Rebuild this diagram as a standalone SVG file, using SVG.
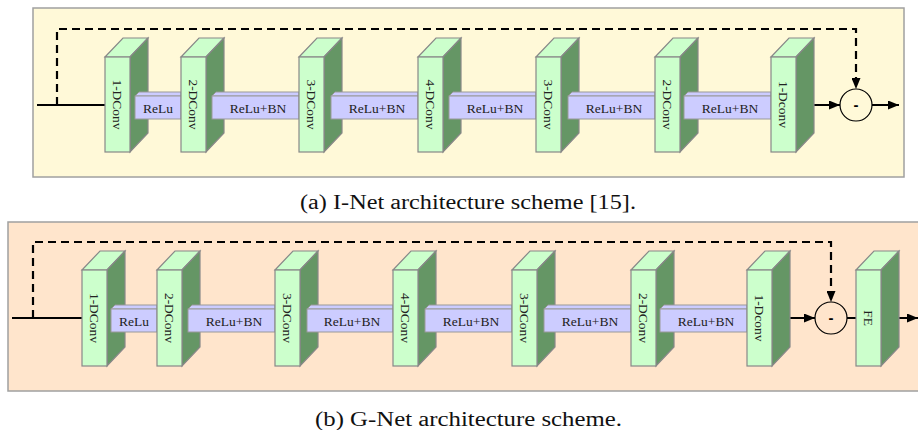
<svg xmlns="http://www.w3.org/2000/svg" width="918" height="430" viewBox="0 0 918 430">
<style>
.panelA{fill:#FFF9D8;stroke:#A0A0A0;stroke-width:1.5}
.panelB{fill:#FFE5CC;stroke:#A0A0A0;stroke-width:1.5}
.front{fill:#CCFFCC;stroke:#888;stroke-width:1.2}
.top{fill:#CCFFCC;stroke:#888;stroke-width:1.2}
.side{fill:#659665;stroke:#888;stroke-width:1.2}
.bar{fill:#CCCCFF;stroke:#999;stroke-width:1}
.lbl{font-family:"Liberation Serif","Times New Roman",serif;font-size:13.5px;fill:#222;text-anchor:middle;dominant-baseline:central}
.cap{font-family:"Liberation Serif","Times New Roman",serif;font-size:20px;fill:#111;text-anchor:middle}
.line{fill:none;stroke:#000;stroke-width:2}
.dash{fill:none;stroke:#000;stroke-width:2.2;stroke-dasharray:8 5}
.sum{fill:none;stroke:#000;stroke-width:1.2}
.minus{font-family:"Liberation Sans",Arial,sans-serif;font-size:15px;font-weight:bold;fill:#000;text-anchor:middle;dominant-baseline:central}
</style>
<defs>
<marker id="ah" markerUnits="userSpaceOnUse" markerWidth="11" markerHeight="9" refX="11" refY="4.5" orient="auto">
<path d="M0,0 L11,4.5 L0,9 Z" fill="#000"/>
</marker>
</defs>

<rect class="panelA" x="33" y="8" width="871" height="169"/>
<rect class="panelB" x="8" y="222" width="925" height="169"/>

<g id="connectors">
<path class="dash" d="M57,105 V29 H856 V89" marker-end="url(#ah)"/>
<path class="line" d="M37,105 H105"/>
<path class="line" d="M814,105 H840" marker-end="url(#ah)"/>
<path class="line" d="M872,105 H899" marker-end="url(#ah)"/>
<path class="dash" d="M33,318 V242 H831 V302" marker-end="url(#ah)"/>
<path class="line" d="M12,318 H82"/>
<path class="line" d="M789,318 H815" marker-end="url(#ah)"/>
<path class="line" d="M847,318 H856"/>
<path class="line" d="M898,318 H918" marker-end="url(#ah)"/>
</g>

<!-- Panel (a) -->
<g id="a_conv1"><polygon class="top" points="105,57 123,38 148,38 130,57"/><polygon class="side" points="130,57 148,38 148,133 130,152"/><rect class="front" x="105" y="57" width="25" height="95"/><text class="lbl" transform="translate(117.5,104.5) rotate(90)">1-DConv</text></g>
<g id="a_bar1"><polygon class="bar" points="135,96 139,92 181,92 181,96"/><rect class="bar" x="135" y="96" width="46" height="23"/><text class="lbl" x="158" y="108">ReLu</text></g>
<g id="a_conv2"><polygon class="top" points="181,57 199,38 224,38 206,57"/><polygon class="side" points="206,57 224,38 224,133 206,152"/><rect class="front" x="181" y="57" width="25" height="95"/><text class="lbl" transform="translate(193.5,104.5) rotate(90)">2-DConv</text></g>
<g id="a_bar2"><polygon class="bar" points="212,96 216,92 299,92 299,96"/><rect class="bar" x="212" y="96" width="87" height="23"/><text class="lbl" x="258" y="108">ReLu+BN</text></g>
<g id="a_conv3"><polygon class="top" points="299,57 317,38 342,38 324,57"/><polygon class="side" points="324,57 342,38 342,133 324,152"/><rect class="front" x="299" y="57" width="25" height="95"/><text class="lbl" transform="translate(311.5,104.5) rotate(90)">3-DConv</text></g>
<g id="a_bar3"><polygon class="bar" points="331,96 335,92 418,92 418,96"/><rect class="bar" x="331" y="96" width="87" height="23"/><text class="lbl" x="377" y="108">ReLu+BN</text></g>
<g id="a_conv4"><polygon class="top" points="418,57 436,38 461,38 443,57"/><polygon class="side" points="443,57 461,38 461,133 443,152"/><rect class="front" x="418" y="57" width="25" height="95"/><text class="lbl" transform="translate(430.5,104.5) rotate(90)">4-DConv</text></g>
<g id="a_bar4"><polygon class="bar" points="449,96 453,92 536,92 536,96"/><rect class="bar" x="449" y="96" width="87" height="23"/><text class="lbl" x="495" y="108">ReLu+BN</text></g>
<g id="a_conv5"><polygon class="top" points="536,57 554,38 579,38 561,57"/><polygon class="side" points="561,57 579,38 579,133 561,152"/><rect class="front" x="536" y="57" width="25" height="95"/><text class="lbl" transform="translate(548.5,104.5) rotate(90)">3-DConv</text></g>
<g id="a_bar5"><polygon class="bar" points="568,96 572,92 655,92 655,96"/><rect class="bar" x="568" y="96" width="87" height="23"/><text class="lbl" x="614" y="108">ReLu+BN</text></g>
<g id="a_conv6"><polygon class="top" points="655,57 673,38 698,38 680,57"/><polygon class="side" points="680,57 698,38 698,133 680,152"/><rect class="front" x="655" y="57" width="25" height="95"/><text class="lbl" transform="translate(667.5,104.5) rotate(90)">2-DConv</text></g>
<g id="a_bar6"><polygon class="bar" points="684,96 688,92 771,92 771,96"/><rect class="bar" x="684" y="96" width="87" height="23"/><text class="lbl" x="730" y="108">ReLu+BN</text></g>
<g id="a_conv7"><polygon class="top" points="771,57 789,38 814,38 796,57"/><polygon class="side" points="796,57 814,38 814,133 796,152"/><rect class="front" x="771" y="57" width="25" height="95"/><text class="lbl" transform="translate(783.5,104.5) rotate(90)">1-Dconv</text></g>
<g id="a_sub"><circle class="sum" cx="856" cy="105" r="16"/><text class="minus" x="856" y="104">-</text></g>
<text class="cap" x="468" y="209" textLength="336" lengthAdjust="spacingAndGlyphs">(a) I-Net architecture scheme [15].</text>

<!-- Panel (b) -->
<g id="b_conv1"><polygon class="top" points="82,270 100,251 125,251 107,270"/><polygon class="side" points="107,270 125,251 125,347 107,366"/><rect class="front" x="82" y="270" width="25" height="96"/><text class="lbl" transform="translate(94.5,318) rotate(90)">1-DConv</text></g>
<g id="b_bar1"><polygon class="bar" points="111,309 115,305 157,305 157,309"/><rect class="bar" x="111" y="309" width="46" height="23"/><text class="lbl" x="134" y="321">ReLu</text></g>
<g id="b_conv2"><polygon class="top" points="157,270 175,251 200,251 182,270"/><polygon class="side" points="182,270 200,251 200,347 182,366"/><rect class="front" x="157" y="270" width="25" height="96"/><text class="lbl" transform="translate(169.5,318) rotate(90)">2-DConv</text></g>
<g id="b_bar2"><polygon class="bar" points="188,309 192,305 275,305 275,309"/><rect class="bar" x="188" y="309" width="87" height="23"/><text class="lbl" x="234" y="321">ReLu+BN</text></g>
<g id="b_conv3"><polygon class="top" points="275,270 293,251 318,251 300,270"/><polygon class="side" points="300,270 318,251 318,347 300,366"/><rect class="front" x="275" y="270" width="25" height="96"/><text class="lbl" transform="translate(287.5,318) rotate(90)">3-DConv</text></g>
<g id="b_bar3"><polygon class="bar" points="307,309 311,305 393,305 393,309"/><rect class="bar" x="307" y="309" width="86" height="23"/><text class="lbl" x="352" y="321">ReLu+BN</text></g>
<g id="b_conv4"><polygon class="top" points="393,270 411,251 436,251 418,270"/><polygon class="side" points="418,270 436,251 436,347 418,366"/><rect class="front" x="393" y="270" width="25" height="96"/><text class="lbl" transform="translate(405.5,318) rotate(90)">4-DConv</text></g>
<g id="b_bar4"><polygon class="bar" points="425,309 429,305 512,305 512,309"/><rect class="bar" x="425" y="309" width="87" height="23"/><text class="lbl" x="471" y="321">ReLu+BN</text></g>
<g id="b_conv5"><polygon class="top" points="512,270 530,251 555,251 537,270"/><polygon class="side" points="537,270 555,251 555,347 537,366"/><rect class="front" x="512" y="270" width="25" height="96"/><text class="lbl" transform="translate(524.5,318) rotate(90)">3-DConv</text></g>
<g id="b_bar5"><polygon class="bar" points="544,309 548,305 631,305 631,309"/><rect class="bar" x="544" y="309" width="87" height="23"/><text class="lbl" x="590" y="321">ReLu+BN</text></g>
<g id="b_conv6"><polygon class="top" points="631,270 649,251 674,251 656,270"/><polygon class="side" points="656,270 674,251 674,347 656,366"/><rect class="front" x="631" y="270" width="25" height="96"/><text class="lbl" transform="translate(643.5,318) rotate(90)">2-DConv</text></g>
<g id="b_bar6"><polygon class="bar" points="660,309 664,305 747,305 747,309"/><rect class="bar" x="660" y="309" width="87" height="23"/><text class="lbl" x="706" y="321">ReLu+BN</text></g>
<g id="b_conv7"><polygon class="top" points="747,270 765,251 790,251 772,270"/><polygon class="side" points="772,270 790,251 790,347 772,366"/><rect class="front" x="747" y="270" width="25" height="96"/><text class="lbl" transform="translate(759.5,318) rotate(90)">1-Dconv</text></g>
<g id="b_sub"><circle class="sum" cx="831" cy="318" r="16"/><text class="minus" x="831" y="317">-</text></g>
<g id="b_fe"><polygon class="top" points="856,270 874,251 899,251 881,270"/><polygon class="side" points="881,270 899,251 899,347 881,366"/><rect class="front" x="856" y="270" width="25" height="96"/><text class="lbl" transform="translate(868.5,318) rotate(90)">FE</text></g>
<text class="cap" x="468.5" y="426" textLength="307" lengthAdjust="spacingAndGlyphs">(b) G-Net architecture scheme.</text>
</svg>
